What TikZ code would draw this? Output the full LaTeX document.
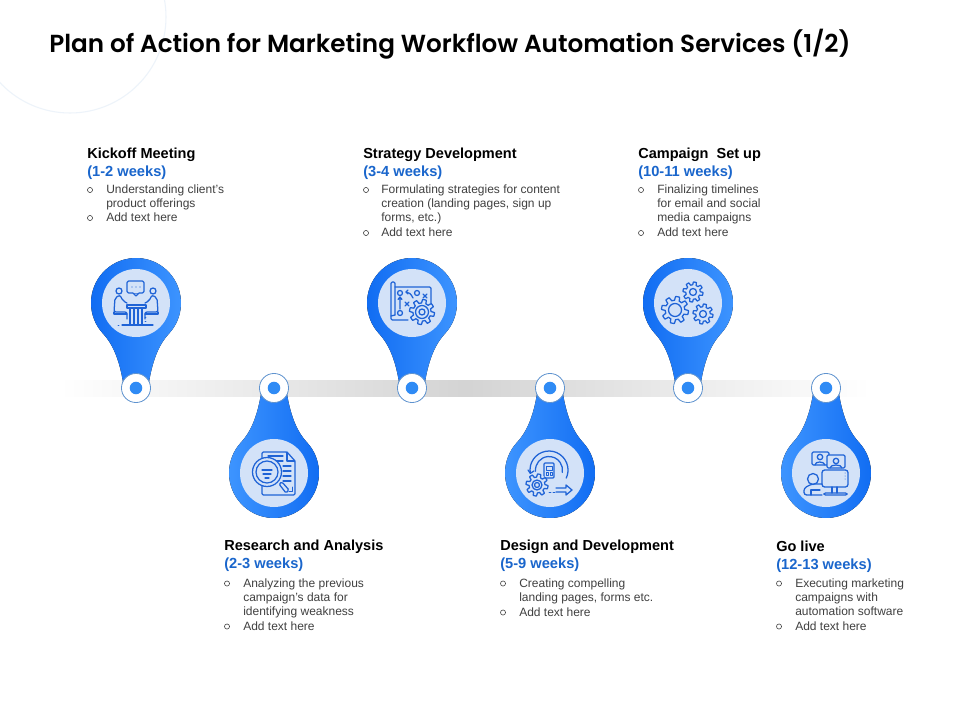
\documentclass[tikz,border=0pt]{standalone}
\usepackage{fontspec}
\setmainfont{Liberation Sans}
\newfontfamily\titlef{Poppins SemiBold}
\definecolor{pinA}{HTML}{0F6BF2}
\definecolor{pinB}{HTML}{3F96FF}
\definecolor{disc}{HTML}{D3E2F8}
\definecolor{ico}{HTML}{1F63D6}
\definecolor{dotc}{HTML}{2F8BF5}
\definecolor{ringc}{HTML}{5F93CF}
\definecolor{headc}{HTML}{1A66CC}
\definecolor{bodyc}{HTML}{404040}
\definecolor{deco}{HTML}{EDF3FA}
\tikzset{
  x=0.75pt,y=-0.75pt,
  titlestyle/.style={anchor=base west,inner sep=0pt,font=\titlef\fontsize{18.5}{22}\selectfont,text=black},
  headstyle/.style={anchor=base west,inner sep=0pt,font=\bfseries\fontsize{10.9}{12}\selectfont,text=black},
  weekstyle/.style={anchor=base west,inner sep=0pt,font=\bfseries\fontsize{11}{12}\selectfont,text=headc},
  linestyle/.style={anchor=base west,inner sep=0pt,font=\fontsize{9}{10}\selectfont,text=bodyc},
  bulletstyle/.style={circle,draw=bodyc,line width=0.45pt,inner sep=0pt,minimum size=3.8pt},
  ringstyle/.style={circle,draw=ringc,line width=0.6pt,fill=white,inner sep=0pt,minimum size=21.8pt},
  dotstyle/.style={circle,fill=dotc,inner sep=0pt,minimum size=9.4pt},
  discstyle/.style={circle,fill=disc,inner sep=0pt,minimum size=51pt},
  iconline/.style={draw=ico,line width=0.95pt,line join=round,line cap=round},
  thinline/.style={draw=ico,line width=0.6pt,line join=round,line cap=round}
}
% gear: x, y, radius, teeth, hole radius
\newcommand{\gearmark}[5]{%
  \pgfmathtruncatemacro{\gearsamples}{#4*16+1}%
  \draw[iconline] plot[domain=0:360,samples=\gearsamples]
   ({#1+(#3*0.86+#3*0.14*max(-1,min(1,4*sin(#4*\x))))*cos(\x)},
    {#2+(#3*0.86+#3*0.14*max(-1,min(1,4*sin(#4*\x))))*sin(\x)}) -- cycle;
  \draw[iconline] (#1,#2) circle[radius=#5];
}
\begin{document}
\begin{tikzpicture}
\useasboundingbox (0,0) rectangle (960,720);
\fill[white] (0,0) rectangle (960,720);
\begin{scope}
  \clip (0,0) rectangle (960,720);
  \draw[deco,line width=0.8pt] (70,17) circle[radius=96];
\end{scope}
\fill[left color=white,right color=white,middle color=black!17,shading angle=90,shading=axis] (60,380) rectangle (870,396);

% pins pointing down
\foreach \px in {136,412,688}{
  \fill[left color=pinA,right color=pinB]
    (\px-33.44,333.11) .. controls (\px-24,343) and (\px-17,358) .. (\px-13,382)
    -- (\px+13,382) .. controls (\px+17,358) and (\px+24,343) .. (\px+33.44,333.11)
    arc[start angle=42,end angle=-222,radius=45] -- cycle;
}
% pins pointing up
\foreach \px in {274,550,826}{
  \fill[left color=pinB,right color=pinA]
    (\px-33.44,442.89) .. controls (\px-24,433) and (\px-17,418) .. (\px-13,394)
    -- (\px+13,394) .. controls (\px+17,418) and (\px+24,433) .. (\px+33.44,442.89)
    arc[start angle=-42,end angle=222,radius=45] -- cycle;
}
\node[ringstyle] (r1) at (136,388) {}; \node[dotstyle] (d1) at (r1) {};
\node[ringstyle] (r2) at (274,388) {}; \node[dotstyle] (d2) at (r2) {};
\node[ringstyle] (r3) at (412,388) {}; \node[dotstyle] (d3) at (r3) {};
\node[ringstyle] (r4) at (550,388) {}; \node[dotstyle] (d4) at (r4) {};
\node[ringstyle] (r5) at (688,388) {}; \node[dotstyle] (d5) at (r5) {};
\node[ringstyle] (r6) at (826,388) {}; \node[dotstyle] (d6) at (r6) {};
\node[discstyle] (c1) at (136,303) {};
\node[discstyle] (c2) at (274,473) {};
\node[discstyle] (c3) at (412,303) {};
\node[discstyle] (c4) at (550,473) {};
\node[discstyle] (c5) at (688,303) {};
\node[discstyle] (c6) at (826,473) {};

% icon 1: meeting
\begin{scope}[shift={(136,303)}]
  \draw[iconline,rounded corners=1.2pt] (-9,-22) rectangle (8,-10);
  \fill[disc] (-3,-10.5) rectangle (3,-9.5);
  \draw[iconline] (-3,-10) -- (0,-7) -- (3,-10);
  \foreach \dx in {-4,0,4} \fill[ico] (\dx,-16) circle[radius=0.7];
  \draw[iconline] (-17,-12) circle[radius=3] (17,-12) circle[radius=3];
  \draw[iconline,rounded corners=1.5pt] (-9,0) -- (-13,-2) -- (-16,-8) -- (-21,-5) -- (-22,9) -- (-9,9) -- (-9,16);
  \draw[iconline,rounded corners=1.5pt] (9,0) -- (13,-2) -- (16,-8) -- (21,-5) -- (22,9) -- (9,9) -- (9,16);
  \draw[iconline] (-22,9) -- (-22,11) -- (-9,11) (22,9) -- (22,11) -- (9,11);
  \draw[iconline] (-9,2) rectangle (10,5);
  \draw[iconline] (-6,5) -- (-6,22) (-2,5) -- (-2,22) (2,5) -- (2,22) (6,5) -- (6,22);
  \draw[iconline] (-14,22) -- (17,22);
  \draw[thinline] (-18,22) -- (-17,22) (9,14) -- (10,14) (9,18) -- (10,18);
\end{scope}

% icon 2: document with magnifier
\begin{scope}[shift={(274,473)}]
  \draw[iconline,rounded corners=1pt] (-12,-21) -- (13,-21) -- (21,-12) -- (21,22) -- (-12,22) -- cycle;
  \draw[iconline] (13,-21) -- (13,-12) -- (21,-12);
  \draw[iconline] (-6,-17) -- (9,-17) (0,-12) -- (9,-12) (9,-7) -- (17,-7) (9,-2) -- (17,-2) (9,3) -- (17,3) (9,8) -- (17,8);
  \fill[disc] (-7,-1) circle[radius=14.5];
  \draw[iconline] (-7,-1) circle[radius=14.5];
  \draw[iconline] (-7,-1) circle[radius=11];
  \draw[iconline,fill=disc,rounded corners=1pt] (5,11) -- (12,20) -- (15,17) -- (8,9) -- cycle;
  \draw[iconline] (-12,-3) -- (-2,-3) (-11,1) -- (-3,1) (-9,5) -- (-5,5);
  \draw[thinline] (15,18) -- (18,18) -- (18,14);
\end{scope}

% icon 3: strategy map with gear
\begin{scope}[shift={(412,303)}]
  \draw[iconline,rounded corners=1pt] (-17,-16) -- (19,-16) -- (19,0);
  \draw[iconline,rounded corners=1pt] (-4,17) -- (-21,17) -- (-21,-21) -- (-17,-21) -- (-17,12);
  \draw[iconline] (-21,13) -- (-17,12);
  \draw[iconline] (-12,-10) circle[radius=2.5] (5,-10) circle[radius=2.5] (-12,10) circle[radius=2.5];
  \draw[iconline] (11,-9) -- (15,-5) (15,-9) -- (11,-5) (-7,-1) -- (-3,3) (-3,-1) -- (-7,3);
  \draw[iconline] (-12,6) -- (-12,-6) (-14,-3.5) -- (-12,-6) -- (-10,-3.5);
  \draw[iconline] (1,-5) .. controls (-1,-9) and (-3,-11) .. (-6,-11);
  \draw[iconline] (-4,-13) -- (-6,-11) -- (-4,-9);
  \fill[disc] (10,9) circle[radius=12];
  \gearmark{10}{9}{12.5}{8}{6.5}
  \draw[iconline] (10,9) circle[radius=3];
\end{scope}

% icon 4: design cycle
\begin{scope}[shift={(550,473)}]
  \draw[iconline] (-19.7,0.3) arc[start angle=170,end angle=385,radius=19];
  \draw[iconline] (-14.45,-1.8) arc[start angle=175,end angle=370,radius=13.5];
  \draw[iconline] (-22,-3) -- (-19.7,0.3) -- (-16,-2);
  \draw[iconline,rounded corners=0.8pt] (-6,-10) rectangle (4,5);
  \draw[thinline] (-4,-7) rectangle (2,-3) (-4,-1) rectangle (-2,2) (0,-1) rectangle (2,2);
  \fill[disc] (-13,12) circle[radius=11];
  \gearmark{-13}{12}{11}{8}{5}
  \draw[iconline] (-13,12) circle[radius=2.5];
  \draw[iconline] (6,15) -- (16,15) -- (16,12) -- (22,17) -- (16,22) -- (16,19) -- (6,19);
  \draw[thinline] (-1,19) -- (1,19) (3,19) -- (5,19);
\end{scope}

% icon 5: gears
\begin{scope}[shift={(688,303)}]
  \gearmark{-13}{7}{13.5}{8}{6.5}
  \gearmark{5}{-11}{10}{8}{3.5}
  \gearmark{15}{11}{10}{8}{3.5}
\end{scope}

% icon 6: video conference
\begin{scope}[shift={(826,473)}]
  \draw[iconline,rounded corners=1pt] (-14,-21) rectangle (3,-8);
  \draw[iconline,fill=disc,rounded corners=1pt] (1,-18) rectangle (19,-5);
  \draw[iconline] (-6,-16) circle[radius=2.7] (10,-12) circle[radius=2.7];
  \draw[iconline] (-11,-8) .. controls (-11,-12) and (-2,-12) .. (-1,-8);
  \draw[iconline] (4,-5) .. controls (4,-9) and (16,-9) .. (16,-5);
  \draw[iconline,rounded corners=2pt] (-4,-3) rectangle (22,14);
  \foreach \dy in {0,3,6} \fill[ico] (19,\dy) circle[radius=0.5];
  \draw[iconline] (6,14) -- (6,20) (11,14) -- (11,20);
  \draw[iconline,rounded corners=1pt] (-2,22) -- (-2,20) -- (21,20) -- (21,22) -- cycle;
  \draw[iconline] (-13,6) circle[radius=5.5];
  \draw[iconline,rounded corners=2pt] (-4,11) -- (-14,11) -- (-22,15) -- (-22,22) -- (-4,22);
  \draw[iconline] (-15,22) -- (-15,17) -- (-6,17);
\end{scope}

% title
\node[titlestyle] (title) at (49,53) {Plan of Action for Marketing Workflow Automation Services (1/2)};

% column 1
\node[headstyle] (h1) at (87,159) {Kickoff Meeting};
\node[weekstyle] (w1) at (87,177) {(1-2 weeks)};
\node[bulletstyle] (b1a) at (90,190) {};
\node[linestyle] (l1a) at (106,193.7) {Understanding client’s};
\node[linestyle] (l1b) at (106,207.7) {product offerings};
\node[bulletstyle] (b1b) at (90,218) {};
\node[linestyle] (l1c) at (106,221.7) {Add text here};

% column 2
\node[headstyle] (h2) at (224,550) {Research and Analysis};
\node[weekstyle] (w2) at (224,568) {(2-3 weeks)};
\node[bulletstyle] (b2a) at (227,583.5) {};
\node[linestyle] (l2a) at (243,587) {Analyzing the previous};
\node[linestyle] (l2b) at (243,601) {campaign’s data for};
\node[linestyle] (l2c) at (243,615) {identifying weakness};
\node[bulletstyle] (b2b) at (227,626.5) {};
\node[linestyle] (l2d) at (243,630) {Add text here};

% column 3
\node[headstyle] (h3) at (363,159) {Strategy Development};
\node[weekstyle] (w3) at (363,177) {(3-4 weeks)};
\node[bulletstyle] (b3a) at (366,190) {};
\node[linestyle] (l3a) at (381,193.7) {Formulating strategies for content};
\node[linestyle] (l3b) at (381,207.7) {creation (landing pages, sign up};
\node[linestyle] (l3c) at (381,221.7) {forms, etc.)};
\node[bulletstyle] (b3b) at (366,233) {};
\node[linestyle] (l3d) at (381,236.7) {Add text here};

% column 4
\node[headstyle] (h4) at (500,550) {Design and Development};
\node[weekstyle] (w4) at (500,568) {(5-9 weeks)};
\node[bulletstyle] (b4a) at (503,583.5) {};
\node[linestyle] (l4a) at (519,587) {Creating compelling};
\node[linestyle] (l4b) at (519,601) {landing pages, forms etc.};
\node[bulletstyle] (b4b) at (503,612.5) {};
\node[linestyle] (l4c) at (519,616) {Add text here};

% column 5
\node[headstyle] (h5) at (638,159) {Campaign\ \ Set up};
\node[weekstyle] (w5) at (638,177) {(10-11 weeks)};
\node[bulletstyle] (b5a) at (641,190) {};
\node[linestyle] (l5a) at (657,193.7) {Finalizing timelines};
\node[linestyle] (l5b) at (657,207.7) {for email and social};
\node[linestyle] (l5c) at (657,221.7) {media campaigns};
\node[bulletstyle] (b5b) at (641,233) {};
\node[linestyle] (l5d) at (657,236.7) {Add text here};

% column 6
\node[headstyle] (h6) at (776,551) {Go live};
\node[weekstyle] (w6) at (776,569) {(12-13 weeks)};
\node[bulletstyle] (b6a) at (779,583.5) {};
\node[linestyle] (l6a) at (795,587) {Executing marketing};
\node[linestyle] (l6b) at (795,601) {campaigns with};
\node[linestyle] (l6c) at (795,615) {automation software};
\node[bulletstyle] (b6b) at (779,626.5) {};
\node[linestyle] (l6d) at (795,630) {Add text here};
\end{tikzpicture}
\end{document}
